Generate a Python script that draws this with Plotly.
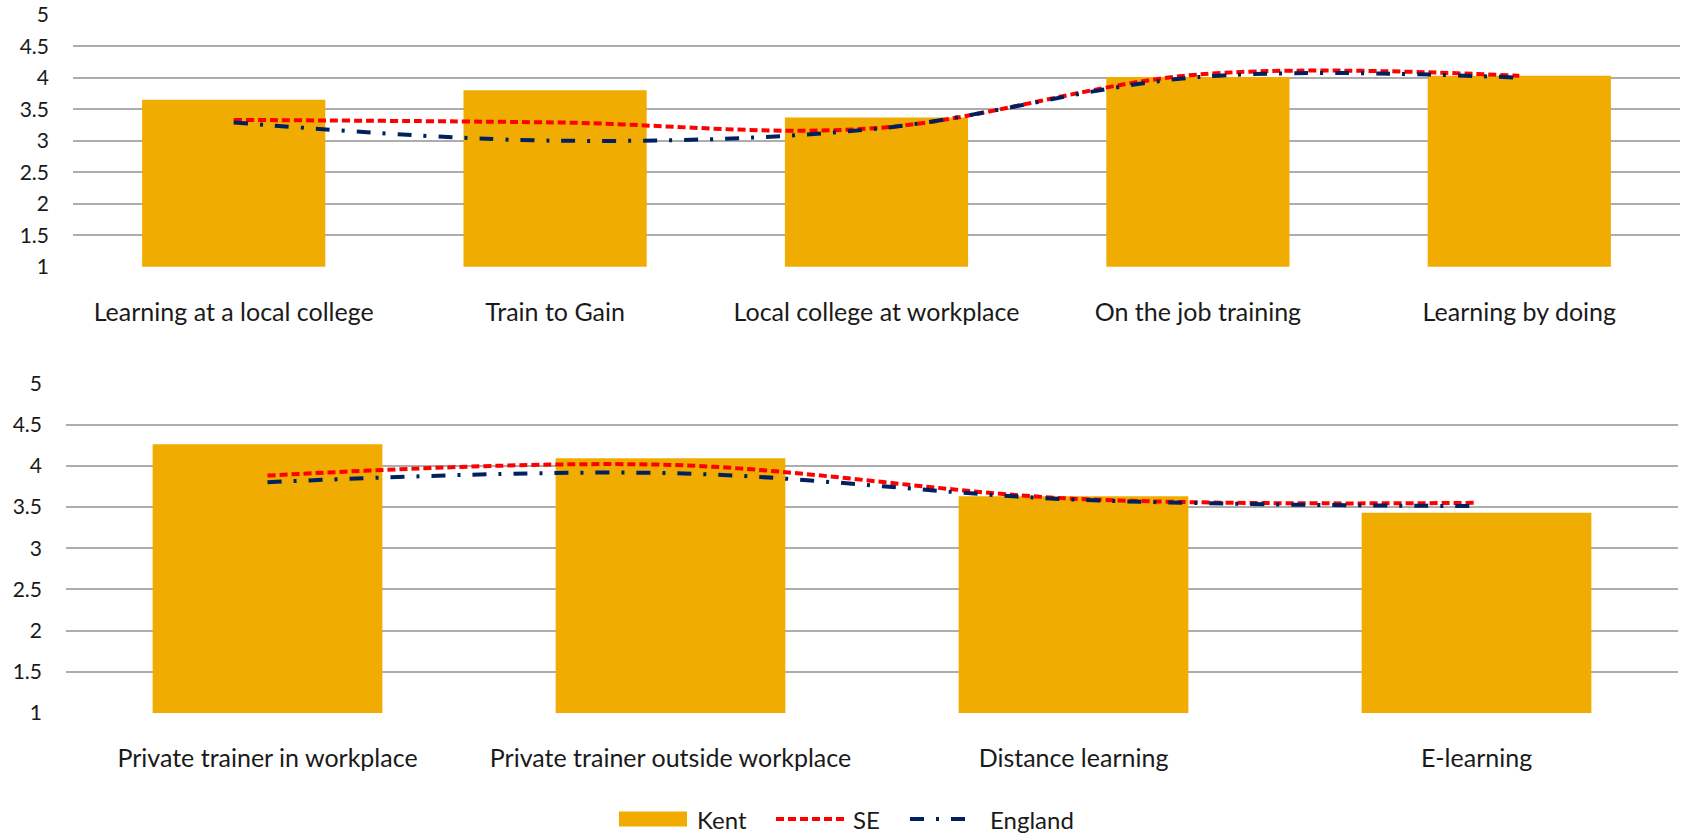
import plotly.graph_objects as go

# Average rating (1-5) of training routes: Kent vs South East vs England
cats_top = ["Learning at a local college", "Train to Gain", "Local college at workplace",
            "On the job training", "Learning by doing"]
kent_top = [3.65, 3.80, 3.37, 4.01, 4.03]
se_top = [3.33, 3.29, 3.20, 4.05, 4.03]
england_top = [3.29, 3.00, 3.19, 4.01, 4.00]

cats_bottom = ["Private trainer in workplace", "Private trainer outside workplace",
               "Distance learning", "E-learning"]
kent_bottom = [4.26, 4.09, 3.63, 3.43]
se_bottom = [3.88, 4.01, 3.60, 3.55]
england_bottom = [3.80, 3.91, 3.59, 3.51]

y_ticks = [1, 1.5, 2, 2.5, 3, 3.5, 4, 4.5, 5]
y_tick_text = ["1", "1.5", "2", "2.5", "3", "3.5", "4", "4.5", "5"]

KENT = "#F0AC00"
SE_RED = "#FF0000"
ENG_NAVY = "#002060"
GRID = "#ADADAD"
TEXT = "#1a1a1a"
FONT = "Lato"
SE_DASH = "8px,4px"
ENG_DASH = "14px,12px,3px,12px"
LINE_W = 4

W, H = 1688, 836

fig = go.Figure()


def add_panel(cats, kent, se, eng, xa, ya):
    fig.add_trace(go.Bar(x=cats, y=kent, name="Kent", marker_color=KENT,
                         marker_line_width=0, xaxis=xa, yaxis=ya, showlegend=False))
    fig.add_trace(go.Scatter(x=cats, y=se, name="SE", mode="lines",
                             line=dict(color=SE_RED, width=LINE_W, dash=SE_DASH,
                                       shape="spline", smoothing=1),
                             xaxis=xa, yaxis=ya, showlegend=False))
    fig.add_trace(go.Scatter(x=cats, y=eng, name="England", mode="lines",
                             line=dict(color=ENG_NAVY, width=LINE_W, dash=ENG_DASH,
                                       shape="spline", smoothing=1),
                             xaxis=xa, yaxis=ya, showlegend=False))


add_panel(cats_top, kent_top, se_top, england_top, "x", "y")
add_panel(cats_bottom, kent_bottom, se_bottom, england_bottom, "x2", "y2")

yaxis_common = dict(range=[1, 5], tickvals=y_ticks, ticktext=y_tick_text,
                    showgrid=True, gridcolor=GRID, gridwidth=1.5, zeroline=False,
                    showline=False, ticks="", ticklabelstandoff=23, automargin=False,
                    tickfont=dict(family=FONT, size=21, color=TEXT), fixedrange=True)
xaxis_common = dict(showgrid=False, zeroline=False, showline=False, ticks="",
                    ticklabelstandoff=28, automargin=False,
                    tickfont=dict(family=FONT, size=25, color=TEXT), fixedrange=True)


def px_x(v):
    return v / W


def px_y(v):
    return 1 - v / H


fig.update_layout(
    width=W, height=H,
    margin=dict(l=0, r=0, t=0, b=0, autoexpand=False),
    paper_bgcolor="white", plot_bgcolor="white",
    bargap=0.43,
    font=dict(family=FONT, color=TEXT),
    xaxis=dict(domain=[px_x(73), px_x(1680)], anchor="y", **xaxis_common),
    yaxis=dict(domain=[px_y(266.7), px_y(14.7)], anchor="x", **yaxis_common),
    xaxis2=dict(domain=[px_x(66), px_x(1678)], anchor="y2", **xaxis_common),
    yaxis2=dict(domain=[px_y(713), px_y(383.3)], anchor="x2", **yaxis_common),
)

# Legend row drawn below both panels
leg_y = px_y(819)
fig.add_shape(type="rect", xref="paper", yref="paper",
              x0=px_x(619), x1=px_x(687), y0=px_y(826.5), y1=px_y(811.5),
              fillcolor=KENT, line_width=0)
fig.add_shape(type="line", xref="paper", yref="paper",
              x0=px_x(776), x1=px_x(846), y0=leg_y, y1=leg_y,
              line=dict(color=SE_RED, width=LINE_W, dash=SE_DASH))
fig.add_shape(type="line", xref="paper", yref="paper",
              x0=px_x(910), x1=px_x(968), y0=leg_y, y1=leg_y,
              line=dict(color=ENG_NAVY, width=LINE_W, dash=ENG_DASH))
for label, xpos in [("Kent", 695), ("SE", 851), ("England", 988)]:
    fig.add_annotation(text=label, xref="paper", yref="paper", x=px_x(xpos), y=leg_y,
                       xanchor="left", yanchor="middle", showarrow=False,
                       font=dict(family=FONT, size=24, color=TEXT))

fig.write_html("out.html")
